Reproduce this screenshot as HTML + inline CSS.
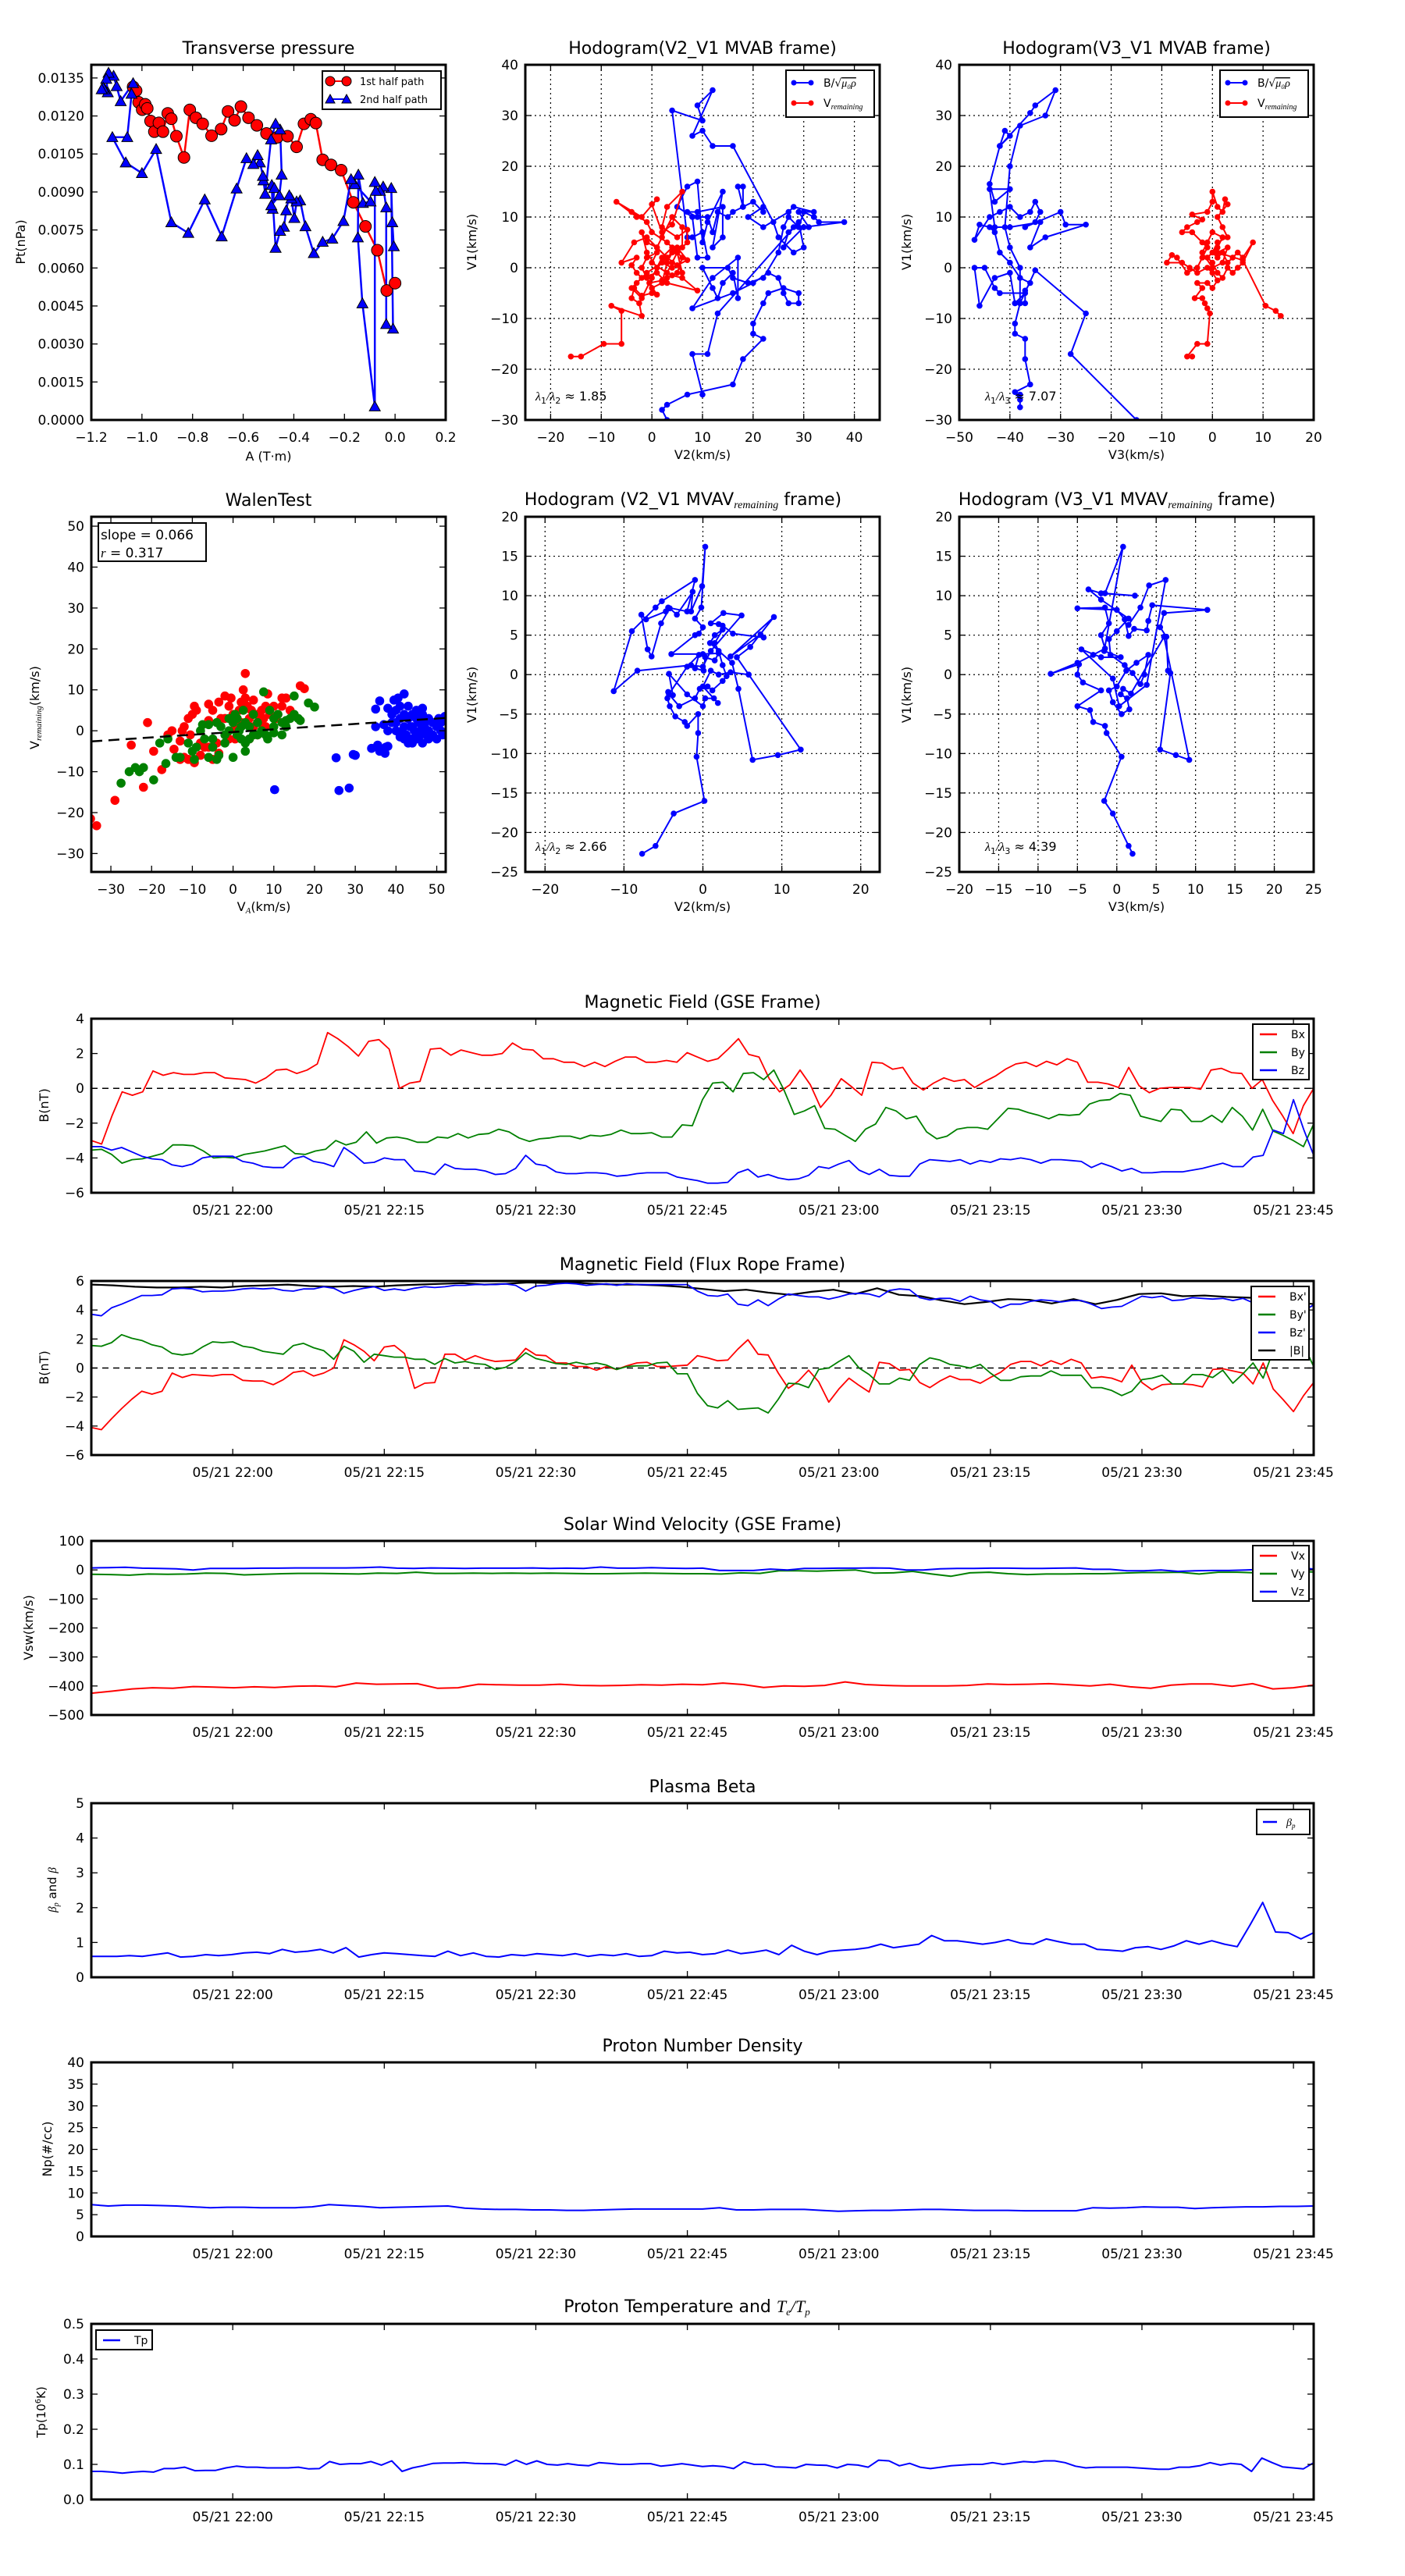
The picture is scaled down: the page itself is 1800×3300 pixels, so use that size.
<!DOCTYPE html>
<html><head><meta charset="utf-8"><title>Flux rope analysis</title>
<style>
html,body{margin:0;padding:0;background:#fff;}
svg{display:block;font-family:"DejaVu Sans","Liberation Sans",sans-serif;}
.m{font-family:"Liberation Serif","DejaVu Serif",serif;font-style:italic;}
</style></head>
<body>
<svg id="fig" width="1800" height="3300" viewBox="0 0 1800 3300" xmlns="http://www.w3.org/2000/svg">
<rect x="0" y="0" width="1800" height="3300" fill="#fff"/>
</svg>
<script>
// ---------------- DATA ----------------
const ptRed=[[-1.035,0.01315],[-1.023,0.0130],[-1.013,0.01254],[-0.999,0.01225],[-0.987,0.01246],[-0.979,0.0123],[-0.966,0.0118],[-0.951,0.01138],[-0.933,0.01173],[-0.917,0.01138],[-0.898,0.0121],[-0.884,0.01189],[-0.864,0.0112],[-0.834,0.01036],[-0.811,0.01224],[-0.787,0.01193],[-0.760,0.01169],[-0.725,0.01122],[-0.687,0.01148],[-0.660,0.01218],[-0.634,0.01183],[-0.609,0.01237],[-0.579,0.01193],[-0.546,0.01163],[-0.508,0.01131],[-0.465,0.01116],[-0.425,0.0112],[-0.389,0.01078],[-0.360,0.01169],[-0.333,0.01187],[-0.313,0.01172],[-0.286,0.01027],[-0.253,0.01007],[-0.213,0.00986],[-0.165,0.00859],[-0.117,0.00764],[-0.070,0.0067],[-0.033,0.00511],[0.000,0.0054]];
const ptBlue=[[-0.005,0.00685],[-0.011,0.0078],[-0.015,0.00915],[-0.008,0.0036],[-0.035,0.00378],[-0.035,0.00839],[-0.047,0.00921],[-0.060,0.00904],[-0.076,0.00904],[-0.080,0.00939],[-0.080,0.00053],[-0.129,0.0046],[-0.147,0.0072],[-0.145,0.00968],[-0.127,0.00856],[-0.097,0.00862],[-0.159,0.0093],[-0.174,0.0095],[-0.204,0.00785],[-0.248,0.00715],[-0.286,0.00703],[-0.321,0.00658],[-0.354,0.00764],[-0.375,0.00866],[-0.389,0.00862],[-0.398,0.00797],[-0.410,0.00874],[-0.418,0.00886],[-0.430,0.00827],[-0.439,0.00762],[-0.454,0.00746],[-0.472,0.00679],[-0.487,0.00927],[-0.484,0.00833],[-0.477,0.00915],[-0.489,0.00847],[-0.457,0.00886],[-0.448,0.00968],[-0.454,0.01146],[-0.472,0.01169],[-0.490,0.01107],[-0.513,0.00892],[-0.520,0.00945],[-0.522,0.00963],[-0.534,0.01016],[-0.543,0.01045],[-0.560,0.0101],[-0.587,0.01033],[-0.626,0.00913],[-0.685,0.00724],[-0.752,0.0087],[-0.817,0.00738],[-0.884,0.0078],[-0.944,0.01069],[-1.000,0.00974],[-1.064,0.01016],[-1.117,0.01116],[-1.058,0.01116],[-1.041,0.01287],[-1.035,0.01329],[-1.084,0.01258],[-1.100,0.01317],[-1.112,0.01358],[-1.132,0.0137],[-1.141,0.01346],[-1.135,0.01293],[-1.147,0.01305],[-1.153,0.01311],[-1.159,0.01305]];
const ptYTicks=["0.0000","0.0015","0.0030","0.0045","0.0060","0.0075","0.0090","0.0105","0.0120","0.0135"];
const ptXTicks=["\u22121.2","\u22121.0","\u22120.8","\u22120.6","\u22120.4","\u22120.2","0.0","0.2"];

const h2Blue=[[3,-30],[2,-28],[3,-27],[7,-25],[16,-23],[18,-18],[22,-14],[20,-13],[20,-11],[22,-7],[23,-5],[26,-4],[29,-5],[29,-7],[27,-7],[26,-5],[25,-2],[23,-1],[20,-3],[16,-5],[8,-8],[12,-2],[17,2],[17,-6],[16,-1],[14,-3],[13,-6],[12,-4],[10,0],[15,0],[16,-2],[19,-3],[22,-2],[25,3],[26,8],[27,10],[29,8],[30,11],[32,10],[33,9],[38,9],[30,8],[26,4],[27,7],[28,8],[31,8],[29,11],[32,11],[28,12],[27,11],[22,8],[19,10],[22,12],[22,11],[20,13],[18,12],[17,16],[18,16],[18,12],[16,11],[15,10],[13,11],[12,7],[11,10],[9,10],[7,11],[9,11],[14,12],[14,6],[12,4],[14,15],[11,9],[10,5],[9,17],[7,16],[5,12],[8,10],[9,2],[11,2],[10,7],[8,6],[7,6],[4,31],[10,29],[9,32],[12,35],[8,26],[10,27],[12,24],[16,24],[24,9],[25,6],[28,3],[30,4],[29,9],[13,-9],[11,-17],[8,-17],[10,-25]];
const h2Red=[[-16,-17.5],[-14,-17.5],[-9.5,-15],[-6,-15],[-6,-8.5],[-8,-7.5],[-2,-9.5],[-2.5,-7],[-4,-6],[-3.5,-4],[-2,-5.5],[0,-5],[1,-5.3],[-0.5,-3],[2,-2.5],[4,-1.5],[6,-2],[9,-4.5],[3,-3],[1,-1],[-2,-2],[-3,-1],[-4,0.5],[-3,2],[-6,1],[-3.5,5],[-1,6],[1,4],[3,2],[5,0.5],[6,-1],[5,3],[3,5],[0,7],[-1,9],[-4,11],[-3,10],[-7,13],[-2,10],[1,13.5],[0,12.5],[2,7],[4,8.5],[6,15],[3,12],[2,8],[5,6],[7,7.5],[7,5],[5,3],[4,1],[3,-1],[0,1],[1,3],[-1,2],[-2,0],[-1,-2],[0,-4],[2,-3],[3,1],[4,3],[6,4],[6,8],[4,10],[2,6],[1,4],[-1,5],[-2,7],[-1,3],[1,0],[3,2],[5,4],[7,1.5],[4,0],[2,1],[-1,-1],[-3,-3],[-4,-4],[-2,-6],[0,-2],[2,2],[4,4],[6,2],[5,-1],[3,-2]];
const h3Blue=[[-15,-30],[-28,-17],[-25,-9],[-35,-0.5],[-38,-7],[-39,-7],[-37,-5],[-42,-5],[-43,-4],[-45,0],[-47,0],[-46,-7.5],[-43,-2],[-40,-1],[-39,-7],[-37,-7],[-37,-4.5],[-36,-3],[-38,-2],[-40,1],[-42,3],[-43,7],[-44,8],[-46,8.5],[-47,5.5],[-44,10],[-42,11],[-40,12],[-38,10],[-36,11],[-35,13],[-34,11],[-35,9],[-37,8],[-30,11],[-29,8.5],[-25,8.5],[-33,6],[-36,4],[-34,9],[-40,8],[-43,8],[-44,15.5],[-40,15.5],[-43,13],[-44,16.5],[-42,24],[-41,27],[-40,26],[-42,24],[-36,30.5],[-35,32],[-31,35],[-33,30],[-38,28],[-40,20],[-41,8],[-40,4],[-38,0],[-38,-7],[-39,-11],[-39,-13],[-37,-14],[-37,-18],[-36,-23],[-39,-24.5],[-38,-26],[-38,-27.5],[-38,-25]];
const h3Red=[[-4,-17.5],[-5,-17.5],[-3,-15],[-1,-15],[-0.5,-9],[-1,-8],[-1.5,-7],[-2,-6],[-3.5,-6],[-2,-4],[-3,-3],[-1,-3],[0,-4],[1,-2.5],[0,-1],[-1,0],[-3,-1],[-4.5,0],[-6,1],[-9,1],[-8,2.5],[-7,2],[-5,-1],[-3,0],[-2,2],[-1,4],[-2,5],[-4,7],[-6,7],[-5,8],[-3,9],[-2,9.5],[-4,10.5],[-1,11],[0,13],[0,15],[1,12],[2,11],[2.5,13.5],[3,12.5],[1,10],[2,8],[3,6],[1,5],[0,3],[1,2],[2,3],[3,1],[4,2],[5,3],[6,2],[8,5],[6,1],[5,0],[4,-1],[3,0],[2,-2],[1,-1],[0,1],[-1,2],[1,4],[2,6],[0,7],[-1,5],[-2,3],[0,0],[2,1],[3,4],[1,3],[6,1.5],[10.5,-7.5],[12.5,-8.5],[13.5,-9.5]];
const h5Blue=[[-7.7,-22.7],[-6,-21.7],[-3.7,-17.6],[0.2,-16],[-0.8,-10.4],[-0.6,-7.4],[-0.6,-5],[-2,-6.5],[-2.3,-6],[-3.5,-5.3],[-4.2,-4],[-4.5,-3],[-4.4,-2.2],[-3.8,-2.6],[-4.3,0.1],[-2,-2.5],[0,-4],[0.3,-3],[1.4,-3],[1.9,-3.6],[0,-1.5],[1,0.5],[2,0],[3.5,0.3],[5.8,0],[4.3,2.2],[6,3.5],[9,7.3],[3.5,2.3],[7.3,5.1],[7.7,4.7],[3.8,5.2],[2.5,6.2],[2,6.4],[1,6.5],[2.6,7.8],[4.9,7.5],[1,3],[0,1],[-1.5,1.2],[-8.3,0.5],[-11.3,-2.1],[-9,5.5],[-6,8.5],[-5.2,9.3],[-1,12],[-2,8],[-4.4,8.5],[-4.7,8],[-7.2,7],[-7.8,7.6],[-7,3.2],[-6.5,2.3],[-5.3,6.5],[-4.2,8.4],[-3.3,7.6],[-1.3,10.5],[-1.5,8],[-0.1,11.2],[0.3,16.2],[-0.2,8.5],[-1,7.1],[0,6],[-0.5,5.2],[-1,5],[-4,2.6],[0,2.6],[2,2.7],[1.5,1.8],[0.3,2.2],[0.1,0.5],[-1,0.8],[-0.5,2.5],[-2,1],[-4.3,-2.5],[-3,-4],[-1,-3],[-0.4,-1.8],[0.6,-1.5],[1.2,-2],[2.5,-0.8],[3,-0.2],[2.5,1.2],[2,3],[1.5,4],[2.5,5.7],[1.5,5],[0.9,4],[3.7,1.5],[4.5,-1.8],[6.3,-10.8],[9.5,-10.2],[12.4,-9.5],[5.8,0]];
const h6Blue=[[2,-22.7],[1.5,-21.7],[-0.5,-17.6],[-1.6,-16],[0.6,-10.4],[-1.3,-7.4],[-1.5,-6.5],[-3,-6],[-3.4,-4.5],[-5,-4],[-2,-2],[-4.3,-1],[-5,0],[-4.8,1.3],[-8.4,0.1],[-5,1.5],[-3,2.5],[-1.5,3.3],[-2,5],[-1,6.5],[-1.5,8.5],[-5,8.4],[0,8.2],[1,7],[1.5,4.9],[2.2,5.8],[3.8,5.6],[4,6.8],[4.5,8.8],[11.5,8.2],[6,7.8],[5.5,6],[6.3,4.8],[6.5,0.5],[6.8,0.2],[5.5,-9.5],[7.5,-10.2],[9.2,-10.8],[6,4.8],[1.8,-2.4],[0.8,-1.8],[0.5,-2.5],[1.3,-3],[1.6,-4.4],[0.6,-5],[-0.5,-3.5],[-1,-2],[0,-1.5],[1.2,0.5],[2.5,1.5],[4,2.5],[3.5,0],[3,-1.2],[2,0.2],[1,1.2],[-0.8,2.5],[-1,4.5],[0,5.5],[1.5,7.1],[-2,9.5],[-3.6,10.8],[-2,10.3],[2.3,10],[-1.5,10.3],[0.8,16.2],[-1.6,3],[0.5,2.2],[-2,2.2],[-4.5,3.2],[-0.5,-0.5],[0.3,-4],[3.8,-1.3],[6.2,12],[4.1,11.3],[3,8.5],[1.5,6.3]];

const wRed=[[-35,-21.5],[-33.5,-23.2],[-29,-17],[-25,-3.5],[-22,-13.8],[-21,2],[-19.5,-5],[-17.5,-9.5],[-15,0],[-14.5,-4.5],[-13,-2.5],[-12.5,0],[-12,1],[-11,3],[-10.5,-1],[-10,4],[-9.5,6],[-9,5],[-8,-3],[-7,-4],[-6,6.5],[-6,2.5],[-5,5],[-4,-3],[-3.5,7],[-3,3],[-2,8.5],[-1,6],[-0.5,8],[0,4],[0.5,-2],[1,-1],[1.5,5],[2.5,10],[3,14],[3,8],[2,7],[3.5,6],[4,3],[4.5,5],[5,7.5],[6,4],[6.5,2],[7,5],[7.5,3],[8,6],[8.5,9],[9,4],[10,6],[10.5,3],[11,4],[12,8],[12,6],[13,8],[14,5],[16.5,11],[17.5,10.3],[-12,-6.5],[-11,-7],[-9.5,-7.8],[-8,-6],[-5,-7],[-3.5,-5.5],[-1,-2],[0.5,0.5],[2,2],[5,1],[6,-1],[8,1],[-16,-1],[-13,-7],[-6,-4],[-2,3],[1,3],[4,-2]];
const wGreen=[[-27.5,-12.8],[-25.5,-10],[-24,-9],[-23,-10],[-22,-9],[-19.5,-12],[-18,-3],[-16,-2],[-16.5,-8],[-14,-6.5],[-13,-6.5],[-11,-3],[-10,-5],[-9.5,-7],[-9,-4],[-8,0],[-7.5,1.5],[-7,-2],[-6,1.5],[-6,-6.5],[-5,-4],[-4,-7],[-3.5,-6],[-3,1],[-2,-3],[-2,-1],[-1,0],[0,-6.5],[0,2],[0.5,4],[1,3],[1.5,0],[2,-2],[2.5,5],[3,-5],[3,2],[3,-3],[4,1],[5,4],[5,-1],[6,2],[7,0],[7.5,9.5],[8,-1],[8.5,-2],[9,5],[10,1],[10,3],[11,4],[12,-1],[12,2],[13,1],[14,3],[15,8.5],[15,4],[16,3],[16.5,2.5],[18.5,6.8],[20,5.8],[-5,-2],[-4,2],[1,-1],[4,-2],[6,-1],[-1,3],[2,1],[10,-0.5],[13,2.5]];
const wBlue=[[10.2,-14.4],[25.3,-6.6],[26,-14.6],[28.5,-14],[29.5,-5.8],[30,-6],[34,-4.3],[35,1],[35,5.3],[35.5,-3.5],[36,-5],[36,7.3],[37,1.5],[37.3,-5.5],[37.5,-4],[38,-3.8],[38,0],[38,5.5],[39,4],[39.5,7.5],[40,5],[40,2],[40.5,8],[41,6],[41,-1.5],[41,3],[41.5,0],[42,9],[42,4],[42,1],[42.5,-1],[43,3],[43,-3],[43,6],[43.5,1],[44,-2],[44,4],[44.5,0],[45,-2],[45,3],[45,5],[45.5,2],[46,-1],[46,0],[46.5,5.5],[46.5,4],[46.5,-3],[47,2],[47,1],[47.5,-1],[48,3],[48,0],[49,2],[49,-1],[50,1],[50,-2],[50.5,3],[51,0],[51,2],[51.5,-1],[52,3.5],[44,1],[40,0],[39,2],[42,-2],[44,-3],[46,2],[48,-2]];
const walenSlope=0.066, walenIntercept=-0.3;

const timeSpan=121;
const timeTickMin=[14,29,44,59,74,89,104,119];
const timeTickLabels=["05/21 22:00","05/21 22:15","05/21 22:30","05/21 22:45","05/21 23:00","05/21 23:15","05/21 23:30","05/21 23:45"];
const bx=[-3.0,-3.2,-1.6,-0.2,-0.4,-0.2,1.0,0.75,0.9,0.8,0.8,0.9,0.9,0.6,0.55,0.5,0.3,0.6,1.05,1.1,0.85,1.05,1.4,3.2,2.85,2.4,1.85,2.7,2.8,2.25,0,0.3,0.4,2.25,2.3,1.9,2.2,2.05,1.9,1.9,2.0,2.6,2.25,2.2,1.7,1.7,1.5,1.5,1.25,1.5,1.25,1.55,1.8,1.8,1.5,1.5,1.6,1.5,2.05,1.8,1.55,1.7,2.25,2.85,1.95,1.8,0.55,-0.2,0.2,1.05,0.2,-1.1,-0.4,0.55,0.1,-0.4,1.5,1.45,1.1,1.2,0.3,-0.1,0.3,0.6,0.4,0.5,0.05,0.4,0.7,1.1,1.4,1.5,1.25,1.55,1.35,1.7,1.5,0.35,0.35,0.25,0.05,1.2,0.15,-0.25,0,0.05,0.05,0.05,-0.05,1.05,1.15,0.9,0.85,0,0.5,-0.7,-1.6,-2.6,-1.0,0];
const by=[-3.55,-3.5,-3.8,-4.3,-4.1,-4.05,-3.9,-3.75,-3.25,-3.25,-3.3,-3.6,-4.0,-3.95,-4.0,-3.8,-3.7,-3.6,-3.45,-3.3,-3.75,-3.8,-3.6,-3.5,-3.0,-3.25,-3.1,-2.5,-3.15,-2.85,-2.8,-2.9,-3.1,-3.1,-2.8,-2.85,-2.6,-2.85,-2.65,-2.6,-2.35,-2.5,-2.85,-3.05,-2.9,-2.85,-2.75,-2.75,-2.9,-2.7,-2.75,-2.65,-2.4,-2.6,-2.6,-2.55,-2.8,-2.8,-2.1,-2.15,-0.65,0.3,0.35,-0.2,0.85,0.9,0.5,1.05,-0.1,-1.5,-1.3,-1.0,-2.3,-2.35,-2.7,-3.05,-2.35,-2.05,-1.1,-1.3,-1.75,-1.6,-2.5,-2.9,-2.75,-2.35,-2.25,-2.25,-2.35,-1.75,-1.15,-1.2,-1.4,-1.55,-1.75,-1.5,-1.55,-1.5,-0.9,-0.7,-0.65,-0.3,-0.4,-1.6,-1.75,-1.9,-1.2,-1.25,-1.9,-1.9,-1.55,-1.95,-1.1,-1.6,-2.4,-1.2,-2.45,-2.7,-3.0,-3.35,-2.05];
const bz=[-3.35,-3.35,-3.55,-3.4,-3.65,-3.9,-4.05,-4.1,-4.4,-4.5,-4.35,-4.0,-3.9,-3.9,-3.9,-4.2,-4.3,-4.5,-4.55,-4.55,-4.05,-3.9,-4.2,-4.3,-4.5,-3.4,-3.8,-4.3,-4.25,-4.0,-4.1,-4.1,-4.75,-4.8,-4.95,-4.35,-4.6,-4.65,-4.65,-4.75,-4.95,-4.9,-4.6,-3.85,-4.35,-4.45,-4.8,-4.9,-4.9,-4.85,-4.85,-4.9,-5.05,-5.0,-4.9,-4.85,-4.85,-4.85,-5.1,-5.2,-5.3,-5.45,-5.45,-5.4,-4.85,-4.65,-5.1,-4.95,-5.15,-5.25,-5.2,-5.0,-4.5,-4.6,-4.35,-4.15,-4.7,-4.95,-4.65,-5.0,-5.05,-5.05,-4.35,-4.1,-4.15,-4.2,-4.1,-4.35,-4.15,-4.25,-4.05,-4.1,-4.0,-4.1,-4.3,-4.1,-4.1,-4.15,-4.2,-4.55,-4.3,-4.5,-4.75,-4.6,-4.85,-4.85,-4.8,-4.8,-4.8,-4.7,-4.6,-4.45,-4.3,-4.5,-4.5,-3.95,-3.85,-2.4,-2.6,-0.65,-2.35,-3.85];
const bxp=[-4.1,-4.25,-3.5,-2.8,-2.15,-1.6,-1.8,-1.6,-0.35,-0.65,-0.45,-0.5,-0.55,-0.45,-0.45,-0.85,-0.9,-0.9,-1.15,-0.8,-0.3,-0.2,-0.55,-0.35,0,1.95,1.6,1.15,0.5,1.45,1.55,1.0,-1.4,-1.05,-1.0,0.95,0.95,0.55,0.85,0.6,0.45,0.5,0.55,1.35,0.9,0.85,0.35,0.35,0.1,0.1,-0.15,0.1,-0.1,0.15,0.35,0.4,0.1,0.1,0.15,0.2,0.85,0.7,0.5,0.55,1.3,1.95,0.95,0.9,-0.35,-1.4,-0.9,-0.15,-0.95,-2.35,-1.45,-0.7,-1.2,-1.65,0.4,0.3,-0.15,-0.1,-1.0,-1.35,-0.9,-0.55,-0.8,-0.8,-1.05,-0.65,-0.3,0.25,0.45,0.45,0.15,0.5,0.25,0.6,0.35,-0.7,-0.6,-0.7,-0.95,0.2,-1.0,-1.5,-1.15,-1.1,-1.1,-1.15,-1.3,-0.1,-0.05,-0.2,-0.35,-1.1,0.35,-1.45,-2.2,-3.0,-1.9,-1.0];
const byp=[1.55,1.5,1.75,2.3,2.05,1.9,1.6,1.45,1.0,0.9,1.0,1.45,1.8,1.75,1.8,1.5,1.4,1.15,1.05,0.95,1.55,1.7,1.4,1.2,0.6,1.5,1.15,0.4,0.95,0.85,0.75,0.75,0.6,0.6,0.25,0.65,0.35,0.45,0.3,0.25,-0.1,0.05,0.45,1.05,0.65,0.5,0.3,0.25,0.4,0.25,0.35,0.2,-0.1,0.1,0.15,0.15,0.35,0.4,-0.4,-0.4,-1.75,-2.6,-2.75,-2.25,-2.85,-2.8,-2.75,-3.1,-2.15,-1.05,-1.1,-1.35,-0.1,0,0.45,0.85,0,-0.45,-1.1,-1.1,-0.7,-0.85,0.25,0.7,0.55,0.25,0.15,0,0.25,-0.35,-0.85,-0.85,-0.6,-0.55,-0.55,-0.2,-0.5,-0.5,-0.5,-1.35,-1.35,-1.55,-1.9,-1.6,-0.8,-0.7,-0.5,-1.1,-1.1,-0.45,-0.45,-0.65,-0.15,-1.05,-0.4,0.35,-0.7,1.2,1.0,1.75,1.6,0.1];
const bzp=[3.7,3.6,4.15,4.4,4.7,5.0,5.0,5.05,5.45,5.5,5.45,5.25,5.3,5.3,5.35,5.45,5.5,5.45,5.5,5.35,5.3,5.45,5.45,5.6,5.5,5.15,5.35,5.5,5.6,5.35,5.45,5.35,5.5,5.6,5.55,5.6,5.7,5.7,5.75,5.75,5.75,5.8,5.7,5.3,5.65,5.7,5.8,5.85,5.8,5.7,5.75,5.8,5.7,5.8,5.75,5.75,5.75,5.75,5.75,5.75,5.3,5.0,4.95,5.1,4.4,4.3,4.7,4.3,4.75,5.1,5.0,4.9,4.9,4.75,4.9,5.1,5.15,5.1,4.9,5.35,5.45,5.4,4.85,4.7,4.8,4.8,4.6,4.95,4.7,4.6,4.15,4.4,4.4,4.6,4.7,4.65,4.55,4.65,4.65,4.4,4.1,4.2,4.25,4.6,4.95,4.85,4.95,4.65,4.7,4.85,4.8,4.75,4.8,4.65,4.8,4.5,4.8,4.65,4.5,4.05,3.95,4.35];
const bmag=[5.75,5.7,5.6,5.55,5.55,5.6,5.55,5.65,5.7,5.75,5.65,5.6,5.65,5.6,5.7,5.75,5.8,5.85,5.75,5.8,5.9,5.85,5.9,5.8,5.75,5.75,5.7,5.6,5.45,5.3,5.4,5.2,5.05,5.25,5.4,5.1,5.5,5.05,4.95,4.65,4.4,4.55,4.75,4.7,4.45,4.75,4.4,4.7,5.1,5.15,4.95,5.0,4.9,4.85,4.8,4.6,4.4];
const vx=[-425,-418,-410,-406,-408,-402,-404,-406,-403,-405,-401,-400,-403,-390,-394,-393,-392,-408,-406,-394,-396,-397,-397,-394,-398,-399,-398,-396,-397,-394,-396,-390,-395,-405,-400,-401,-398,-386,-395,-398,-400,-400,-400,-398,-393,-395,-394,-392,-396,-400,-394,-403,-408,-397,-393,-393,-401,-392,-410,-406,-397];
const vy=[-15,-16,-18,-14,-15,-14,-11,-12,-17,-15,-13,-12,-12,-13,-14,-11,-12,-8,-12,-12,-11,-12,-11,-12,-11,-12,-13,-13,-12,-11,-12,-13,-13,-14,-10,-12,-3,-3,-4,-2,0,-11,-10,-5,-14,-22,-10,-8,-13,-16,-14,-14,-13,-13,-11,-9,-9,-8,-14,-8,-8,-10,-6,-6,-7];
const vz=[7,8,9,6,5,4,0,5,5,5,6,6,7,7,7,7,8,10,6,5,7,6,5,6,6,6,7,5,6,5,10,6,6,8,6,5,6,-2,-2,-2,3,0,5,5,6,6,7,6,0,0,4,5,5,6,6,5,5,6,7,2,2,-3,-3,0,-5,-3,-2,-2,0,2,7,9,3];
const beta=[0.6,0.6,0.6,0.62,0.6,0.65,0.7,0.58,0.6,0.65,0.62,0.65,0.7,0.72,0.68,0.8,0.72,0.75,0.8,0.7,0.85,0.58,0.65,0.7,0.68,0.65,0.62,0.6,0.75,0.62,0.7,0.6,0.58,0.65,0.62,0.68,0.65,0.62,0.68,0.6,0.65,0.62,0.68,0.6,0.62,0.75,0.7,0.72,0.65,0.68,0.78,0.68,0.72,0.78,0.65,0.92,0.75,0.65,0.75,0.78,0.8,0.85,0.95,0.85,0.9,0.95,1.2,1.05,1.05,1.0,0.95,1.0,1.08,0.98,0.95,1.1,1.02,0.95,0.95,0.8,0.78,0.75,0.85,0.88,0.8,0.9,1.05,0.95,1.05,0.95,0.88,1.5,2.15,1.3,1.28,1.1,1.28];
const np=[7.3,7.0,7.2,7.2,7.1,7.0,6.8,6.6,6.7,6.7,6.6,6.6,6.6,6.8,7.3,7.1,6.9,6.6,6.7,6.8,6.9,7.0,6.5,6.3,6.2,6.2,6.1,6.1,6.0,6.0,6.1,6.2,6.3,6.3,6.3,6.3,6.3,6.6,6.1,6.1,6.2,6.2,6.2,6.0,5.8,5.9,6.0,6.0,6.1,6.2,6.2,6.1,6.0,6.0,6.0,5.9,5.9,5.9,5.9,6.6,6.5,6.6,6.8,6.7,6.7,6.4,6.6,6.7,6.8,6.8,6.9,6.9,7.0];
const tp=[0.08,0.08,0.078,0.075,0.078,0.08,0.078,0.088,0.088,0.092,0.082,0.083,0.083,0.09,0.095,0.092,0.092,0.09,0.09,0.09,0.092,0.087,0.088,0.108,0.1,0.102,0.102,0.108,0.098,0.11,0.08,0.09,0.096,0.103,0.104,0.104,0.105,0.103,0.102,0.102,0.098,0.112,0.1,0.11,0.1,0.098,0.102,0.098,0.096,0.105,0.103,0.1,0.1,0.102,0.102,0.095,0.098,0.102,0.098,0.094,0.096,0.094,0.088,0.107,0.1,0.1,0.093,0.092,0.09,0.1,0.098,0.097,0.09,0.1,0.098,0.092,0.112,0.11,0.096,0.103,0.092,0.088,0.092,0.096,0.098,0.1,0.1,0.105,0.1,0.104,0.108,0.106,0.11,0.11,0.105,0.095,0.09,0.092,0.092,0.092,0.092,0.09,0.088,0.086,0.086,0.092,0.092,0.096,0.105,0.098,0.103,0.1,0.08,0.118,0.105,0.093,0.09,0.087,0.105];

// ---------------- DRAWING ----------------
const NS='http://www.w3.org/2000/svg';
const svg=document.getElementById('fig');
let clipId=0;
function mk(tag, attrs, parent, name){
  const e=document.createElementNS(NS,tag);
  for(const k in attrs) e.setAttribute(k,attrs[k]);
  
  
  (parent||svg).appendChild(e);
  return e;
}
function txt(s, x, y, size, anchor, parent, name, extra){
  const a={x:x,y:y,'font-size':size,'text-anchor':anchor||'middle',fill:'#000'};
  if(extra) for(const k in extra) a[k]=extra[k];
  const t=mk('text', a, parent, name);
  t.textContent=s;
  return t;
}
function axes(o){
  const g=mk('g',{},svg,o.name);
  const sx=v=>o.L+(v-o.xmin)/(o.xmax-o.xmin)*(o.R-o.L);
  const sy=v=>o.B-(v-o.ymin)/(o.ymax-o.ymin)*(o.B-o.T);
  const cid='clip'+(clipId++);
  const cp=mk('clipPath',{id:cid},g,'clip-region');
  mk('rect',{x:o.L,y:o.T,width:o.R-o.L,height:o.B-o.T},cp,'clip-rect');
  if(o.grid){
    o.xt.forEach(v=>{ if(sx(v)>o.L+1&&sx(v)<o.R-1) mk('line',{x1:sx(v),x2:sx(v),y1:o.T,y2:o.B,stroke:'#000','stroke-width':1.2,'stroke-dasharray':'2,4'},g,'grid-line-x'); });
    o.yt.forEach(v=>{ if(sy(v)>o.T+1&&sy(v)<o.B-1) mk('line',{x1:o.L,x2:o.R,y1:sy(v),y2:sy(v),stroke:'#000','stroke-width':1.2,'stroke-dasharray':'2,4'},g,'grid-line-y'); });
  }
  const data=mk('g',{'clip-path':'url(#'+cid+')'},g,'plot-area');
  const front=mk('g',{},g,'axes-frame');
  mk('rect',{x:o.L,y:o.T,width:o.R-o.L,height:o.B-o.T,fill:'none',stroke:'#000','stroke-width':3},front,'axes-border');
  o.xt.forEach((v,i)=>{
    const x=sx(v);
    mk('line',{x1:x,x2:x,y1:o.B,y2:o.B-8,stroke:'#000','stroke-width':1.3},front,'x-tick');
    mk('line',{x1:x,x2:x,y1:o.T,y2:o.T+8,stroke:'#000','stroke-width':1.3},front,'x-tick');
    txt(o.xl[i],x,o.B+(o.xoff||28),17,'middle',front,'x-tick-label');
  });
  o.yt.forEach((v,i)=>{
    const y=sy(v);
    mk('line',{x1:o.L,x2:o.L+8,y1:y,y2:y,stroke:'#000','stroke-width':1.3},front,'y-tick');
    mk('line',{x1:o.R,x2:o.R-8,y1:y,y2:y,stroke:'#000','stroke-width':1.3},front,'y-tick');
    txt(o.yl[i],o.L-9,y+6,17,'end',front,'y-tick-label');
  });
  if(o.title) txt(o.title,(o.L+o.R)/2,o.T-14,22,'middle',front,'chart-title');
  return {sx,sy,data,front,o};
}
function polyline(ax, pts, color, name, w){
  const d=pts.map(p=>ax.sx(p[0]).toFixed(1)+','+ax.sy(p[1]).toFixed(1)).join(' ');
  return mk('polyline',{points:d,fill:'none',stroke:color,'stroke-width':w||2,'stroke-linejoin':'round'},ax.data,name);
}
function dots(ax, pts, color, r, name, edge){
  pts.forEach(p=>{
    const a={cx:ax.sx(p[0]),cy:ax.sy(p[1]),r:r,fill:color};
    if(edge){a.stroke='#000';a['stroke-width']=1;}
    mk('circle',a,ax.data,name);
  });
}
function tris(ax, pts, color, s, name){
  pts.forEach(p=>{
    const x=ax.sx(p[0]), y=ax.sy(p[1]);
    mk('polygon',{points:`${x},${y-s} ${x-s},${y+s*0.8} ${x+s},${y+s*0.8}`,fill:color,stroke:'#000','stroke-width':1},ax.data,name);
  });
}
function range(a,b,s){const r=[];for(let v=a;v<=b+1e-9;v+=s)r.push(Math.round(v*1e6)/1e6);return r;}
function neg(v){return v<0?'\u2212'+String(-v):String(v);}
function ylabel(s,x,y,name){ return txt(s,x,y,16,'middle',svg,name,{transform:`rotate(-90 ${x} ${y})`}); }

// layout
const R1T=83,R1B=538,R2T=662,R2B=1117;
const C1L=117,C1R=571,C2L=673,C2R=1127,C3L=1229,C3R=1683;

(function(){
  const ax=axes({name:'transverse-pressure-chart',L:C1L,R:C1R,T:R1T,B:R1B,xmin:-1.2,xmax:0.2,ymin:0,ymax:0.01402,
    xt:range(-1.2,0.2,0.2),xl:ptXTicks,yt:range(0,0.0135,0.0015),yl:ptYTicks,title:'Transverse pressure'});
  polyline(ax,ptRed,'#f00','first-half-path-line',2.5);
  polyline(ax,ptBlue,'#00f','second-half-path-line',2.5);
  dots(ax,ptRed,'#f00',7.5,'first-half-point',true);
  tris(ax,ptBlue,'#00f',7,'second-half-point');
  txt('A (T\u00b7m)',344,590,16,'middle',svg,'x-axis-title');
  ylabel('Pt(nPa)',32,310,'y-axis-title');
  const lg=mk('g',{},svg,'legend');
  mk('rect',{x:413,y:91,width:152,height:49,fill:'#fff',stroke:'#000','stroke-width':2},lg,'legend-box');
  mk('line',{x1:423,x2:444,y1:104,y2:104,stroke:'#f00','stroke-width':2},lg,'legend-line');
  mk('circle',{cx:423,cy:104,r:6,fill:'#f00',stroke:'#000'},lg,'legend-marker');
  mk('circle',{cx:444,cy:104,r:6,fill:'#f00',stroke:'#000'},lg,'legend-marker');
  txt('1st half path',461,109,13,'start',lg,'legend-entry');
  mk('line',{x1:423,x2:444,y1:127,y2:127,stroke:'#00f','stroke-width':2},lg,'legend-line');
  mk('polygon',{points:'423,121 417,132 429,132',fill:'#00f',stroke:'#000'},lg,'legend-marker');
  mk('polygon',{points:'444,121 438,132 450,132',fill:'#00f',stroke:'#000'},lg,'legend-marker');
  txt('2nd half path',461,132,13,'start',lg,'legend-entry');
})();

function hodoLegend(x,y){
  const lg=mk('g',{},svg,'legend');
  mk('rect',{x:x,y:y,width:113,height:60,fill:'#fff',stroke:'#000','stroke-width':2},lg,'legend-box');
  mk('line',{x1:x+10,x2:x+32,y1:y+16,y2:y+16,stroke:'#00f','stroke-width':2},lg,'legend-line');
  mk('circle',{cx:x+10,cy:y+16,r:3.5,fill:'#00f'},lg,'legend-marker');
  mk('circle',{cx:x+32,cy:y+16,r:3.5,fill:'#00f'},lg,'legend-marker');
  const t1=txt('B/\u221a',x+48,y+21,14,'start',lg,'legend-entry');
  const ts=mk('tspan',{class:'m','text-decoration':'overline'},t1,'legend-math');
  ts.textContent='\u03bc\u2080\u03c1';
  mk('line',{x1:x+10,x2:x+32,y1:y+42,y2:y+42,stroke:'#f00','stroke-width':2},lg,'legend-line');
  mk('circle',{cx:x+10,cy:y+42,r:3.5,fill:'#f00'},lg,'legend-marker');
  mk('circle',{cx:x+32,cy:y+42,r:3.5,fill:'#f00'},lg,'legend-marker');
  const t2=txt('V',x+48,y+47,14,'start',lg,'legend-entry');
  const s2=mk('tspan',{class:'m','font-size':10,dy:3},t2,'legend-subscript');
  s2.textContent='remaining';
}
function lambdaText(x,y,a,b,val){
  const t=txt('',x,y,16,'start',svg,'eigenvalue-ratio');
  const p1=mk('tspan',{class:'m'},t,'math');p1.textContent='\u03bb';
  const p2=mk('tspan',{'font-size':11,dy:4},t,'math');p2.textContent=a;
  const p3=mk('tspan',{class:'m',dy:-4},t,'math');p3.textContent='/\u03bb';
  const p4=mk('tspan',{'font-size':11,dy:4},t,'math');p4.textContent=b;
  const p5=mk('tspan',{dy:-4},t,'math');p5.textContent=' \u2248 '+val;
}
(function(){
  const ax=axes({name:'hodogram-v2-v1-mvab',L:C2L,R:C2R,T:R1T,B:R1B,xmin:-25,xmax:45,ymin:-30,ymax:40,grid:true,
    xt:range(-20,40,10),xl:range(-20,40,10).map(neg),yt:range(-30,40,10),yl:range(-30,40,10).map(neg),title:'Hodogram(V2_V1 MVAB frame)'});
  polyline(ax,h2Blue,'#00f','b-field-path',2);dots(ax,h2Blue,'#00f',3.8,'b-field-point');
  polyline(ax,h2Red,'#f00','v-remaining-path',2);dots(ax,h2Red,'#f00',3.8,'v-remaining-point');
  txt('V2(km/s)',900,588,16,'middle',svg,'x-axis-title');
  ylabel('V1(km/s)',610,310,'y-axis-title');
  hodoLegend(1007,90);
  lambdaText(686,513,'1','2','1.85');
})();
(function(){
  const ax=axes({name:'hodogram-v3-v1-mvab',L:C3L,R:C3R,T:R1T,B:R1B,xmin:-50,xmax:20,ymin:-30,ymax:40,grid:true,
    xt:range(-50,20,10),xl:range(-50,20,10).map(neg),yt:range(-30,40,10),yl:range(-30,40,10).map(neg),title:'Hodogram(V3_V1 MVAB frame)'});
  polyline(ax,h3Blue,'#00f','b-field-path',2);dots(ax,h3Blue,'#00f',3.8,'b-field-point');
  polyline(ax,h3Red,'#f00','v-remaining-path',2);dots(ax,h3Red,'#f00',3.8,'v-remaining-point');
  txt('V3(km/s)',1456,588,16,'middle',svg,'x-axis-title');
  ylabel('V1(km/s)',1167,310,'y-axis-title');
  hodoLegend(1563,90);
  lambdaText(1262,513,'1','3','7.07');
})();
(function(){
  const ax=axes({name:'walen-test-chart',L:C1L,R:C1R,T:R2T,B:R2B,xmin:-34.8,xmax:52.2,ymin:-34.5,ymax:52.3,
    xt:range(-30,50,10),xl:range(-30,50,10).map(neg),yt:range(-30,50,10),yl:range(-30,50,10).map(neg),title:'WalenTest'});
  dots(ax,wRed,'#f00',5.8,'walen-point-red');
  dots(ax,wGreen,'#008000',5.8,'walen-point-green');
  dots(ax,wBlue,'#00f',5.8,'walen-point-blue');
  const fit=[[ax.o.xmin,walenSlope*ax.o.xmin+walenIntercept],[ax.o.xmax,walenSlope*ax.o.xmax+walenIntercept]];
  const fl=polyline(ax,fit,'#000','fit-line',2.5);fl.setAttribute('stroke-dasharray','14,8');
  const bx_=mk('g',{},svg,'fit-stats-box');
  mk('rect',{x:126,y:670,width:138,height:49,fill:'#fff',stroke:'#000','stroke-width':2},bx_,'stats-box');
  txt('slope = 0.066',129,691,17,'start',bx_,'slope-text');
  const r=txt('',129,714,17,'start',bx_,'r-text');
  const r1=mk('tspan',{class:'m'},r,'math');r1.textContent='r';
  const r2=mk('tspan',{},r,'math');r2.textContent=' = 0.317';
  const xl=txt('V',338,1167,16,'middle',svg,'x-axis-title');
  const xs=mk('tspan',{class:'m','font-size':11,dy:3},xl,'subscript');xs.textContent='A';
  const xr=mk('tspan',{dy:-3},xl,'x-axis-title-rest');xr.textContent='(km/s)';
  const yl=txt('V',50,960,16,'start',svg,'y-axis-title',{transform:'rotate(-90 50 960)'});
  const ys=mk('tspan',{class:'m','font-size':11,dy:3},yl,'subscript');ys.textContent='remaining';
  const yr=mk('tspan',{dy:-3},yl,'y-axis-title-rest');yr.textContent='(km/s)';
})();
(function(){
  const ax=axes({name:'hodogram-v2-v1-mvav',L:C2L,R:C2R,T:R2T,B:R2B,xmin:-22.5,xmax:22.4,ymin:-25,ymax:20,grid:true,
    xt:range(-20,20,10),xl:range(-20,20,10).map(neg),yt:range(-25,20,5),yl:range(-25,20,5).map(neg)});
  polyline(ax,h5Blue,'#00f','b-field-path',2);dots(ax,h5Blue,'#00f',3.8,'b-field-point');
  const t=txt('Hodogram (V2_V1 MVAV',875,647,22,'middle',svg,'chart-title');
  const s=mk('tspan',{class:'m','font-size':14,dy:4},t,'title-subscript');s.textContent='remaining';
  const r=mk('tspan',{dy:-4},t,'title-rest');r.textContent=' frame)';
  txt('V2(km/s)',900,1167,16,'middle',svg,'x-axis-title');
  ylabel('V1(km/s)',610,890,'y-axis-title');
  lambdaText(686,1090,'1','2','2.66');
})();
(function(){
  const ax=axes({name:'hodogram-v3-v1-mvav',L:C3L,R:C3R,T:R2T,B:R2B,xmin:-20,xmax:25,ymin:-25,ymax:20,grid:true,
    xt:range(-20,25,5),xl:range(-20,25,5).map(neg),yt:range(-25,20,5),yl:range(-25,20,5).map(neg)});
  polyline(ax,h6Blue,'#00f','b-field-path',2);dots(ax,h6Blue,'#00f',3.8,'b-field-point');
  const t=txt('Hodogram (V3_V1 MVAV',1431,647,22,'middle',svg,'chart-title');
  const s=mk('tspan',{class:'m','font-size':14,dy:4},t,'title-subscript');s.textContent='remaining';
  const r=mk('tspan',{dy:-4},t,'title-rest');r.textContent=' frame)';
  txt('V3(km/s)',1456,1167,16,'middle',svg,'x-axis-title');
  ylabel('V1(km/s)',1167,890,'y-axis-title');
  lambdaText(1262,1090,'1','3','4.39');
})();

// ---- Time series
const TL=117, TR=1683;
function series(vals){ const n=vals.length; return vals.map((v,i)=>[i*timeSpan/(n-1),v]); }
function tsAxes(name,T,ymin,ymax,yt,yl,title){
  return axes({name:name,L:TL,R:TR,T:T,B:T+223,xmin:0,xmax:timeSpan,ymin:ymin,ymax:ymax,
    xt:timeTickMin,xl:timeTickLabels,yt:yt,yl:yl,title:title,xoff:28});
}
function tsLegend(x,y,w,entries){
  const lg=mk('g',{},svg,'legend');
  const h=entries.length*23+2;
  mk('rect',{x:x,y:y,width:w,height:h,fill:'#fff',stroke:'#000','stroke-width':2},lg,'legend-box');
  entries.forEach((e,i)=>{
    const yy=y+13+i*23;
    mk('line',{x1:x+9,x2:x+31,y1:yy,y2:yy,stroke:e[1],'stroke-width':2.5},lg,'legend-line');
    txt(e[0],x+49,yy+5,14,'start',lg,'legend-entry');
  });
}
function zeroLine(ax){ const l=polyline(ax,[[0,0],[timeSpan,0]],'#000','zero-line',1.5); l.setAttribute('stroke-dasharray','8,6'); }

(function(){
  const ax=tsAxes('magnetic-field-gse-chart',1305,-6,4,range(-6,4,2),range(-6,4,2).map(neg),'Magnetic Field (GSE Frame)');
  zeroLine(ax);
  polyline(ax,series(bx),'#f00','bx-line',1.8);
  polyline(ax,series(by),'#008000','by-line',1.8);
  polyline(ax,series(bz),'#00f','bz-line',1.8);
  ylabel('B(nT)',62,1416,'y-axis-title');
  tsLegend(1605,1312,72,[['Bx','#f00'],['By','#008000'],['Bz','#00f']]);
})();
(function(){
  const ax=tsAxes('magnetic-field-flux-rope-chart',1641,-6,6,range(-6,6,2),range(-6,6,2).map(neg),'Magnetic Field (Flux Rope Frame)');
  zeroLine(ax);
  polyline(ax,series(bxp),'#f00','bx-prime-line',1.8);
  polyline(ax,series(byp),'#008000','by-prime-line',1.8);
  polyline(ax,series(bmag),'#000','b-magnitude-line',2.2);
  polyline(ax,series(bzp),'#00f','bz-prime-line',1.8);
  ylabel('B(nT)',62,1752,'y-axis-title');
  tsLegend(1603,1648,74,[["Bx'",'#f00'],["By'",'#008000'],["Bz'",'#00f'],['|B|','#000']]);
})();
(function(){
  const ax=tsAxes('solar-wind-velocity-chart',1974,-500,100,range(-500,100,100),range(-500,100,100).map(neg),'Solar Wind Velocity (GSE Frame)');
  polyline(ax,series(vx),'#f00','vx-line',2);
  polyline(ax,series(vy),'#008000','vy-line',2);
  polyline(ax,series(vz),'#00f','vz-line',2);
  ylabel('Vsw(km/s)',42,2085,'y-axis-title');
  tsLegend(1605,1980,72,[['Vx','#f00'],['Vy','#008000'],['Vz','#00f']]);
})();
(function(){
  const ax=tsAxes('plasma-beta-chart',2310,0,5,range(0,5,1),range(0,5,1).map(String),'Plasma Beta');
  polyline(ax,series(beta),'#00f','beta-line',2);
  const yl=txt('',72,2421,15,'middle',svg,'y-axis-title',{transform:'rotate(-90 72 2421)'});
  const a=mk('tspan',{class:'m'},yl,'math');a.textContent='\u03b2';
  const b=mk('tspan',{class:'m','font-size':10,dy:3},yl,'math');b.textContent='p';
  const c=mk('tspan',{dy:-3},yl,'math');c.textContent=' and ';
  const d=mk('tspan',{class:'m'},yl,'math');d.textContent='\u03b2';
  const lg=mk('g',{},svg,'legend');
  mk('rect',{x:1610,y:2318,width:68,height:32,fill:'#fff',stroke:'#000','stroke-width':2},lg,'legend-box');
  mk('line',{x1:1618,x2:1636,y1:2334,y2:2334,stroke:'#00f','stroke-width':2.5},lg,'legend-line');
  const lt=txt('',1648,2339,14,'start',lg,'legend-entry');
  const l1=mk('tspan',{class:'m'},lt,'math');l1.textContent='\u03b2';
  const l2=mk('tspan',{class:'m','font-size':9,dy:3},lt,'math');l2.textContent='p';
})();
(function(){
  const ax=tsAxes('proton-density-chart',2642,0,40,range(0,40,5),range(0,40,5).map(String),'Proton Number Density');
  polyline(ax,series(np),'#00f','density-line',2);
  ylabel('Np(#/cc)',66,2753,'y-axis-title');
})();
(function(){
  const ax=axes({name:'proton-temperature-chart',L:TL,R:TR,T:2977,B:3202,xmin:0,xmax:timeSpan,ymin:0,ymax:0.5,
    xt:timeTickMin,xl:timeTickLabels,yt:range(0,0.5,0.1),yl:['0.0','0.1','0.2','0.3','0.4','0.5'],xoff:28});
  polyline(ax,series(tp),'#00f','temperature-line',2);
  const t=txt('Proton Temperature and ',880,2962,22,'middle',svg,'chart-title');
  const a=mk('tspan',{class:'m'},t,'math');a.textContent='T';
  const b=mk('tspan',{class:'m','font-size':13,dy:4},t,'math');b.textContent='e';
  const c=mk('tspan',{class:'m',dy:-4},t,'math');c.textContent='/T';
  const d=mk('tspan',{class:'m','font-size':13,dy:4},t,'math');d.textContent='p';
  const yl=txt('Tp(10',58,3090,15,'middle',svg,'y-axis-title',{transform:'rotate(-90 58 3090)'});
  const s=mk('tspan',{'font-size':10,dy:-6},yl,'superscript');s.textContent='6';
  const r=mk('tspan',{dy:6},yl,'y-axis-title-rest');r.textContent='K)';
  tsLegend(123,2985,72,[['Tp','#00f']]);
})();
</script>
</body></html>
